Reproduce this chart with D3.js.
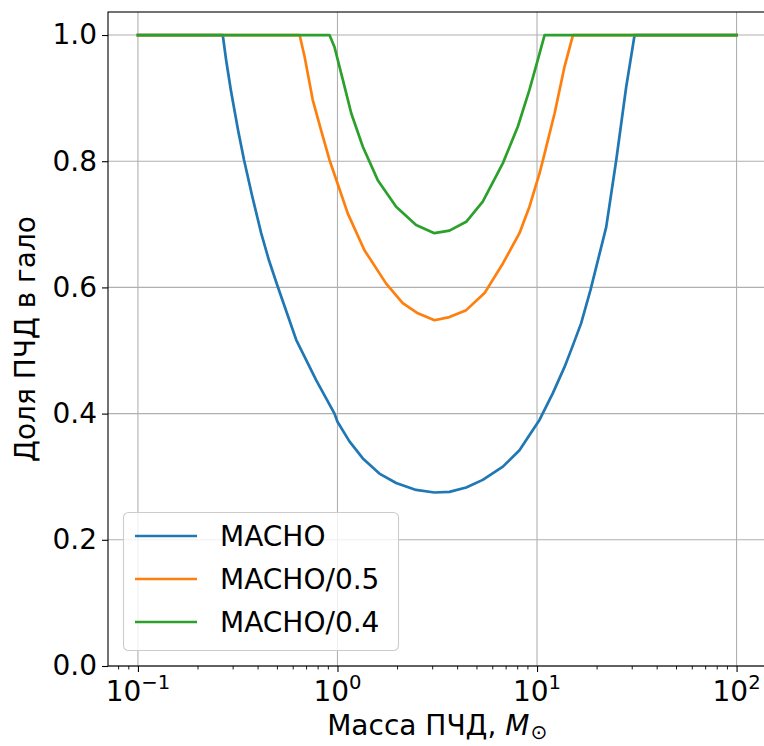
<!DOCTYPE html>
<html>
<head>
<meta charset="utf-8">
<script src="https://cdn.jsdelivr.net/npm/d3@7"></script>
<style>
  html, body { margin: 0; padding: 0; background: #fff; }
  svg { display: block; font-family: "DejaVu Sans", sans-serif; }
</style>
</head>
<body>
<svg id="chart" width="764" height="746"></svg>
<script>
// ---- Data ----
const massMacho = [0.1, 0.2661, 0.2768, 0.2921, 0.3176, 0.3402, 0.3749, 0.4145, 0.4535, 0.5022, 0.621, 0.782, 0.966, 1.0, 1.148, 1.340, 1.622, 1.968, 2.477, 3.062, 3.639, 4.416, 5.346, 6.745, 8.166, 9.528, 10.29, 11.99, 13.74, 14.83, 16.63, 18.54, 22.23, 24.95, 27.99, 30.83, 100];
const valMacho  = [1.0, 1.0, 0.960, 0.913, 0.849, 0.802, 0.743, 0.686, 0.643, 0.601, 0.517, 0.453, 0.400, 0.387, 0.356, 0.329, 0.305, 0.290, 0.279, 0.275, 0.276, 0.283, 0.295, 0.316, 0.342, 0.374, 0.390, 0.432, 0.474, 0.501, 0.543, 0.596, 0.696, 0.802, 0.918, 1.0, 1.0];

const massMacho05 = [0.1, 0.646, 0.684, 0.752, 0.828, 0.912, 1.0, 1.127, 1.365, 1.754, 2.123, 2.529, 3.062, 3.639, 4.416, 5.458, 6.745, 8.166, 9.162, 10.30, 10.91, 12.25, 13.74, 15.14, 100];
const valMacho05  = [1.0, 1.0, 0.966, 0.897, 0.849, 0.802, 0.765, 0.717, 0.659, 0.606, 0.575, 0.559, 0.548, 0.553, 0.564, 0.591, 0.638, 0.686, 0.728, 0.781, 0.812, 0.876, 0.950, 1.0, 1.0];

const massMacho04 = [0.1, 0.912, 0.966, 1.064, 1.172, 1.340, 1.592, 1.968, 2.477, 3.062, 3.639, 4.416, 5.346, 6.745, 8.017, 9.162, 10.30, 10.91, 100];
const valMacho04  = [1.0, 1.0, 0.981, 0.929, 0.876, 0.823, 0.770, 0.728, 0.699, 0.686, 0.690, 0.704, 0.736, 0.797, 0.855, 0.913, 0.971, 1.0, 1.0];

const seriesNames = ["MACHO", "MACHO/0.5", "MACHO/0.4"];
const seriesColors = ["#1f77b4", "#ff7f0e", "#2ca02c"];
const xTickValues = [0.1, 1, 10, 100];
const xTickExponents = ["\u22121", "0", "1", "2"];
const yTickValues = [0.0, 0.2, 0.4, 0.6, 0.8, 1.0];
const xLabelText = "Масса ПЧД, ";
const yLabelText = "Доля ПЧД в гало";

(function () {
// ---- Layout ----
const svg = d3.select("#chart");
const pL = 108, pR = 766.5, pT = 12, pB = 666;
const fs = 28;
const lw = 2.7;

const x = d3.scaleLog().domain([Math.pow(10, -1.15), Math.pow(10, 2.15)]).range([pL, pR]);
const y = d3.scaleLinear().domain([0, 1.0365]).range([pB, pT]);

// grid
const grid = svg.append("g");
xTickValues.forEach(v => {
  grid.append("line").attr("x1", x(v)).attr("x2", x(v)).attr("y1", pT).attr("y2", pB)
    .attr("stroke", "#b0b0b0").attr("stroke-width", 1.1);
});
yTickValues.forEach(v => {
  grid.append("line").attr("x1", pL).attr("x2", pR).attr("y1", y(v)).attr("y2", y(v))
    .attr("stroke", "#b0b0b0").attr("stroke-width", 1.1);
});

// lines
const series = [
  {name: seriesNames[0], xs: massMacho, ys: valMacho, color: seriesColors[0]},
  {name: seriesNames[1], xs: massMacho05, ys: valMacho05, color: seriesColors[1]},
  {name: seriesNames[2], xs: massMacho04, ys: valMacho04, color: seriesColors[2]}
];
const line = d3.line().x(d => x(d[0])).y(d => y(d[1]));
series.forEach(s => {
  svg.append("path").datum(s.xs.map((m, i) => [m, s.ys[i]]))
    .attr("d", line).attr("fill", "none").attr("stroke", s.color)
    .attr("stroke-width", lw).attr("stroke-linejoin", "round").attr("stroke-linecap", "square");
});

// axes
const xAxis = d3.axisBottom(x).tickValues(xTickValues).tickSize(6).tickFormat(() => "");
const gx = svg.append("g").attr("transform", `translate(0,${pB})`).call(xAxis);
gx.select(".domain").remove();
gx.selectAll(".tick line").attr("stroke", "#000").attr("stroke-width", 1.1);

// minor ticks
const minor = [];
for (let e = -2; e <= 2; e++) for (let k = 2; k <= 9; k++) {
  const v = k * Math.pow(10, e);
  if (v >= x.domain()[0] && v <= x.domain()[1]) minor.push(v);
}
svg.append("g").selectAll("line").data(minor).join("line")
  .attr("x1", d => x(d)).attr("x2", d => x(d)).attr("y1", pB).attr("y2", pB + 3.5)
  .attr("stroke", "#000").attr("stroke-width", 0.9);

// x tick labels
xTickValues.forEach((v, i) => {
  const t = svg.append("text").attr("x", x(v)).attr("y", pB + 35)
    .attr("text-anchor", "middle").attr("font-size", fs).attr("fill", "#000");
  t.append("tspan").text("10");
  t.append("tspan").attr("font-size", fs * 0.7).attr("dy", -12).text(xTickExponents[i]);
});

const yAxis = d3.axisLeft(y).tickValues(yTickValues).tickSize(6).tickFormat(d3.format(".1f")).tickPadding(5);
const gy = svg.append("g").attr("transform", `translate(${pL},0)`).call(yAxis);
gy.select(".domain").remove();
gy.selectAll(".tick line").attr("stroke", "#000").attr("stroke-width", 1.1);
gy.selectAll(".tick text").attr("font-size", fs).attr("font-family", "DejaVu Sans").attr("fill", "#000");

// spines
svg.append("rect").attr("x", pL).attr("y", pT).attr("width", pR - pL).attr("height", pB - pT)
  .attr("fill", "none").attr("stroke", "#000").attr("stroke-width", 1.1);

// legend
const lg = svg.append("g");
lg.append("rect").attr("x", 123.5).attr("y", 512.5).attr("width", 275).attr("height", 138)
  .attr("rx", 5).attr("fill", "rgba(255,255,255,0.8)").attr("stroke", "#cccccc").attr("stroke-width", 1.1);
series.forEach((s, i) => {
  const yy = 536 + i * 43;
  lg.append("line").attr("x1", 135).attr("x2", 197).attr("y1", yy).attr("y2", yy)
    .attr("stroke", s.color).attr("stroke-width", lw);
  lg.append("text").attr("x", 220).attr("y", yy + 10).attr("font-size", fs).attr("fill", "#000").text(s.name);
});

// axis labels
const xl = svg.append("text").attr("x", (pL + pR) / 2).attr("y", 735)
  .attr("text-anchor", "middle").attr("font-size", fs).attr("fill", "#000");
xl.append("tspan").text(xLabelText);
xl.append("tspan").attr("font-style", "italic").text("M");
xl.append("tspan").attr("font-size", fs * 0.72).attr("dy", 4).attr("dx", 1).text("\u2299");

svg.append("text").attr("transform", `translate(35,${(pT + pB) / 2}) rotate(-90)`)
  .attr("text-anchor", "middle").attr("font-size", fs).attr("fill", "#000").text(yLabelText);
})();
</script>
</body>
</html>
